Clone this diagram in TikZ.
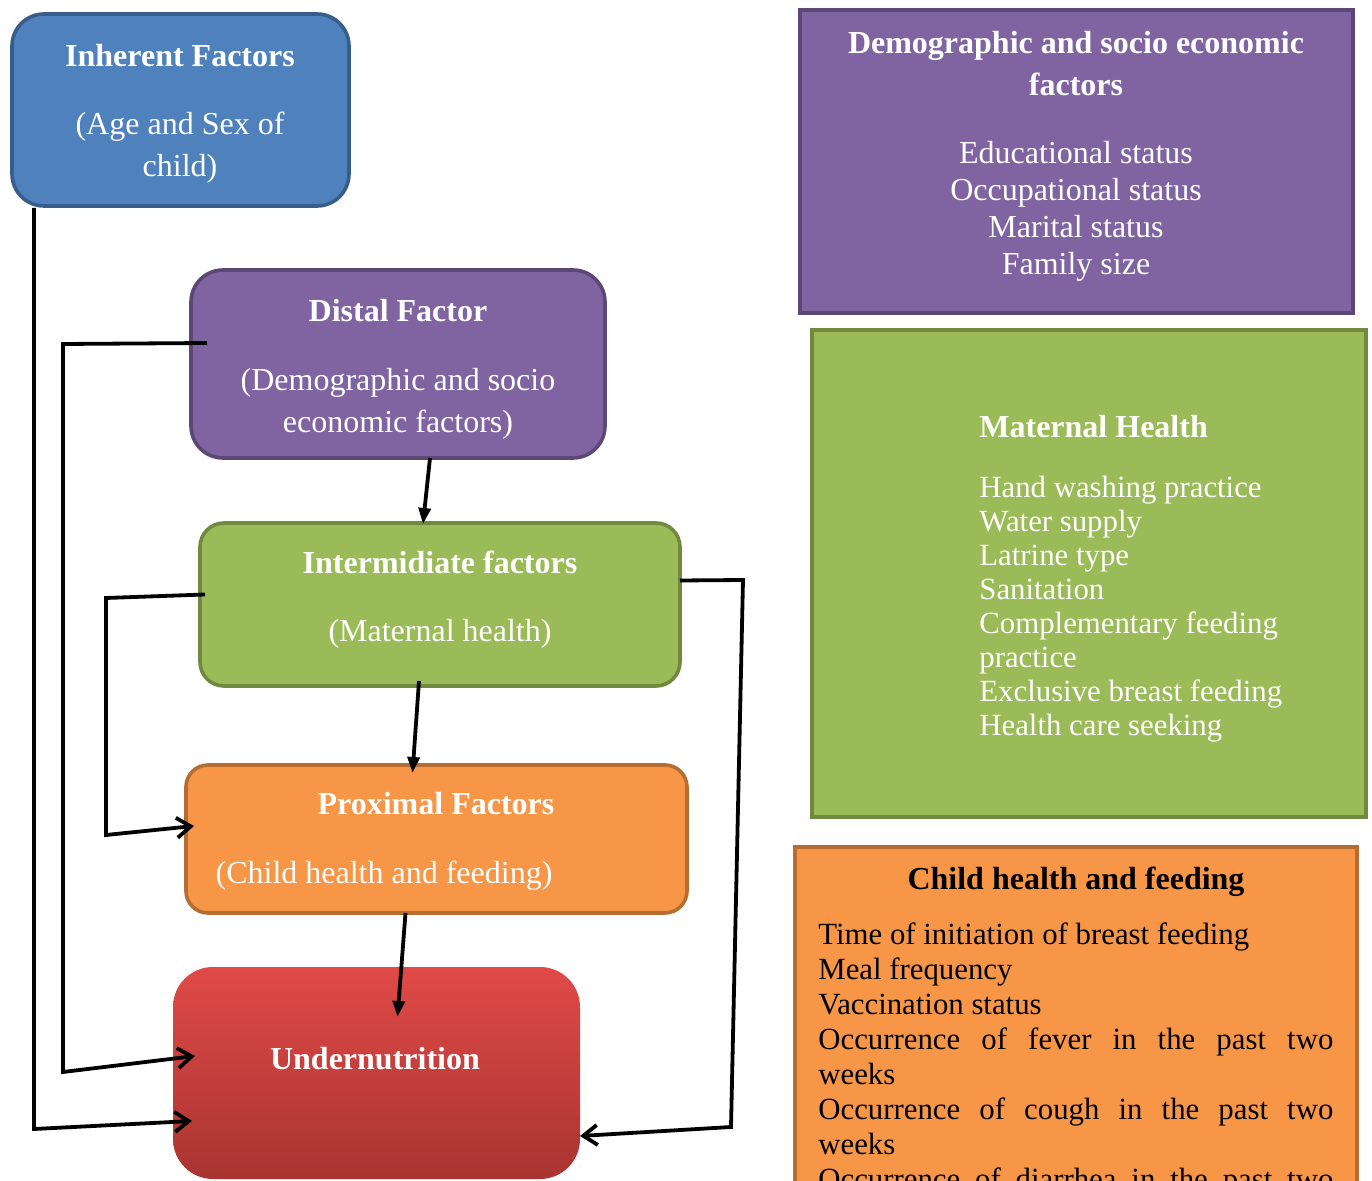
\documentclass[tikz,border=0pt]{standalone}
\usepackage{fontspec}
\setmainfont{Liberation Serif}
\usetikzlibrary{arrows.meta,calc}

\definecolor{blueFill}{HTML}{4F81BD}
\definecolor{blueLine}{HTML}{385D8A}
\definecolor{purpleFill}{HTML}{8064A2}
\definecolor{purpleLine}{HTML}{5C4776}
\definecolor{greenFill}{HTML}{9BBB59}
\definecolor{greenLine}{HTML}{71893F}
\definecolor{orangeFill}{HTML}{F79646}
\definecolor{orangeLine}{HTML}{B66D31}
\definecolor{redTop}{HTML}{E04A47}
\definecolor{redBottom}{HTML}{A83432}

\begin{document}
\begin{tikzpicture}[x=0.5pt,y=-0.5pt,
    box/.style={draw, line width=1.8pt, inner sep=0pt, outer sep=0pt},
    txt/.style={text=white, font=\fontsize{16}{18.5}\selectfont, anchor=base, inner sep=0pt},
    ttl/.style={txt, font=\fontsize{16}{18.5}\selectfont\bfseries},
    lst/.style={txt, anchor=base west, font=\fontsize{15.4}{18}\selectfont},
    link/.style={line width=1.9pt},
    side/.style={link, -{Straight Barb[length=7pt,width=10pt]}},
    down/.style={link, -{Triangle[length=8pt,width=6pt]}}]

    \useasboundingbox (0,0) rectangle (1372,1181);
    \clip (0,0) rectangle (1372,1181);

    % factor boxes on the left
    \node[box, draw=blueLine, fill=blueFill, rounded corners=16pt, minimum width=168.5pt, minimum height=96pt] (inherent) at (180.5,110) {};
    \node[box, draw=purpleLine, fill=purpleFill, rounded corners=16pt, minimum width=207pt, minimum height=94pt] (distal) at (398,364) {};
    \node[box, draw=greenLine, fill=greenFill, rounded corners=12pt, minimum width=240pt, minimum height=81.5pt] (inter) at (440,604.5) {};
    \node[box, draw=orangeLine, fill=orangeFill, rounded corners=11pt, minimum width=250.5pt, minimum height=74pt] (proximal) at (436.5,839) {};
    \node[box, draw=none, top color=redTop, bottom color=redBottom, rounded corners=20pt, minimum width=203.5pt, minimum height=106pt] (under) at (376.5,1073) {};

    \node[ttl] (inherentT) at (180,67) {Inherent Factors};
    \node[txt] (inherentA) at (180,135) {(Age and Sex of};
    \node[txt] (inherentB) at (180,177) {child)};

    \node[ttl] (distalT) at (398,322) {Distal Factor};
    \node[txt] (distalA) at (398,391) {(Demographic and socio};
    \node[txt] (distalB) at (398,433) {economic factors)};

    \node[ttl] (interT) at (440,574) {Intermidiate factors};
    \node[txt] (interA) at (440,642) {(Maternal health)};

    \node[ttl] (proximalT) at (436,815) {Proximal Factors};
    \node[txt] (proximalA) at (384,884) {(Child health and feeding)};

    \node[ttl] (underT) at (375,1069) {Undernutrition};

    % boxes on the right
    \node[box, line width=2pt, draw=purpleLine, fill=purpleFill, minimum width=276.5pt, minimum height=151.5pt] (demoBox) at (1076.5,161.5) {};
    \node[box, line width=2pt, draw=greenLine, fill=greenFill, minimum width=277pt, minimum height=243.5pt] (maternalBox) at (1089,573.5) {};
    \node[box, line width=2pt, draw=orangeLine, fill=orangeFill, minimum width=281pt, minimum height=196.5pt] (childBox) at (1076,1043.5) {};

    \node[ttl] (demoT) at (1076,54) {Demographic and socio economic};
    \node[ttl] (demoU) at (1076,96) {factors};
    \foreach \item [count=\i] in {Educational status, Occupational status, Marital status, Family size}
      \node[txt] (demo-\i) at (1076,127+37*\i) {\item};

    \node[ttl, anchor=base west] (maternalT) at (979,438) {Maternal Health};
    \foreach \item [count=\i] in {Hand washing practice, Water supply, Latrine type, Sanitation,
        Complementary feeding, practice, Exclusive breast feeding, Health care seeking}
      \node[lst] (maternal-\i) at (979,464+34*\i) {\item};

    \node[ttl, text=black] (childT) at (1076,890) {Child health and feeding};
    \foreach \item [count=\i] in {Time of initiation of breast feeding, Meal frequency, Vaccination status,
        \makebox[257.5pt][s]{Occurrence of fever in the past two}, weeks,
        \makebox[257.5pt][s]{Occurrence of cough in the past two}, weeks,
        \makebox[257.5pt][s]{Occurrence of diarrhea in the past two}}
      \node[lst, text=black] (child-\i) at (818,909+35*\i) {\item};

    % connectors
    \coordinate (inhBend) at (34,1129);
    \coordinate (distTop) at (63,344);
    \coordinate (distBend) at (63,1072);
    \coordinate (interTop) at (106,598);
    \coordinate (interBend) at (106,835);
    \coordinate (rightTop) at (743,580);
    \coordinate (rightBend) at (731,1127);

    \draw[side] ($(inherent.south west)+(22,2)$) -- (inhBend) -- ($(under.west)+(19,48)$);
    \draw[side] ($(distal.west)+(16,-21)$) -- (distTop) -- (distBend) -- ($(under.west)+(22,-17)$);
    \draw[side] ($(inter.west)+(5,-10)$) -- (interTop) -- (interBend) -- ($(proximal.west)+(8,-13)$);
    \draw[side] ($(inter.east)+(0,-24)$) -- (rightTop) -- (rightBend) -- ($(under.east)+(0,63)$);

    \draw[down] ($(distal.south)+(32,0)$) -- ($(inter.north)+(-17,1)$);
    \draw[down] ($(inter.south)+(-21,-5)$) -- ($(proximal.north)+(-24,8)$);
    \draw[down] ($(proximal.south)+(-31,0)$) -- ($(under.north)+(21,50)$);

\end{tikzpicture}
\end{document}
